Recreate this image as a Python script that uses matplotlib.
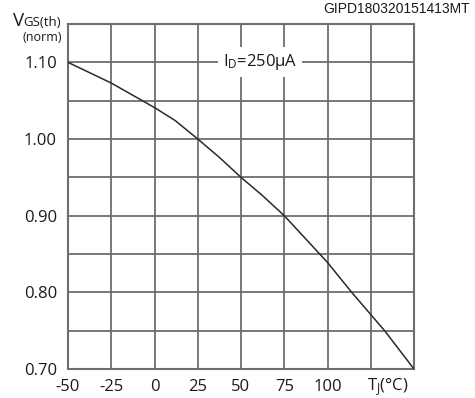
import matplotlib
matplotlib.use("Agg")
import matplotlib.pyplot as plt
from matplotlib.transforms import blended_transform_factory

temps = [-50, -25, 0, 12, 25, 37.5, 50, 62.5, 75, 100, 114, 125, 133, 150]
vgs = [1.10, 1.073, 1.041, 1.024, 1.00, 0.976, 0.95, 0.926, 0.90, 0.839, 0.80, 0.771, 0.75, 0.70]
xticks = [-50, -25, 0, 25, 50, 75, 100]
xticklabels = ["-50", "-25", "0", "25", "50", "75", "100"]
yticks = [0.70, 0.80, 0.90, 1.00, 1.10]
yticklabels = ["0.70", "0.80", "0.90", "1.00", "1.10"]

plt.rcParams['font.family'] = ['Open Sans', 'DejaVu Sans']

fig = plt.figure(figsize=(4.75, 3.98), dpi=100)
ax = fig.add_axes([68/475, 1-369/398, (414-68)/475, (369-24)/398])
ax.set_xlim(-50, 150)
ax.set_ylim(0.70, 1.15)

gc = "#6e6e6e"
for x in range(-25, 150, 25):
    ax.axvline(x, color=gc, lw=1.3, zorder=1)
for i in range(1, 9):
    ax.axhline(0.70 + 0.05*i, color=gc, lw=1.3, zorder=1)
for s in ax.spines.values():
    s.set_color(gc)
    s.set_linewidth(1.5)

ax.plot(temps, vgs, color="#2a2a2a", lw=1.1, zorder=3)

fs = 12
ax.set_xticks(xticks)
ax.set_xticklabels(xticklabels, fontsize=fs)
ax.set_yticks(yticks)
ax.set_yticklabels(yticklabels, fontsize=fs)
ax.tick_params(axis="x", length=0, pad=7, colors="#1a1a1a")
ax.tick_params(axis="y", length=0, pad=8, colors="#1a1a1a")

tr = blended_transform_factory(ax.transData, fig.transFigure)
ax.text(135, 1-390/398, r"T$\mathregular{_J}$(°C)", fontsize=fs, ha="center", va="baseline",
        color="#1a1a1a", transform=tr)

ax.text(61, 1.10, r"I$\mathregular{_D}$=250µA", fontsize=fs, ha="center", va="center",
        color="#1a1a1a", zorder=4,
        bbox=dict(facecolor="white", edgecolor="none", pad=3.5))

fig.text(13/475, 1-26/398, "V", fontsize=13.5, ha="left", va="baseline", color="#1a1a1a")
fig.text(23.5/475, 1-26/398, "GS(th)", fontsize=9.5, ha="left", va="baseline", color="#1a1a1a")
fig.text(62/475, 1-41/398, "(norm)", fontsize=9, ha="right", va="baseline", color="#1a1a1a")
fig.text(470/475, 1-13/398, "GIPD180320151413MT", fontsize=10, ha="right", va="baseline",
         color="#1a1a1a", family="Liberation Sans")

fig.savefig("out.png", dpi=100)
